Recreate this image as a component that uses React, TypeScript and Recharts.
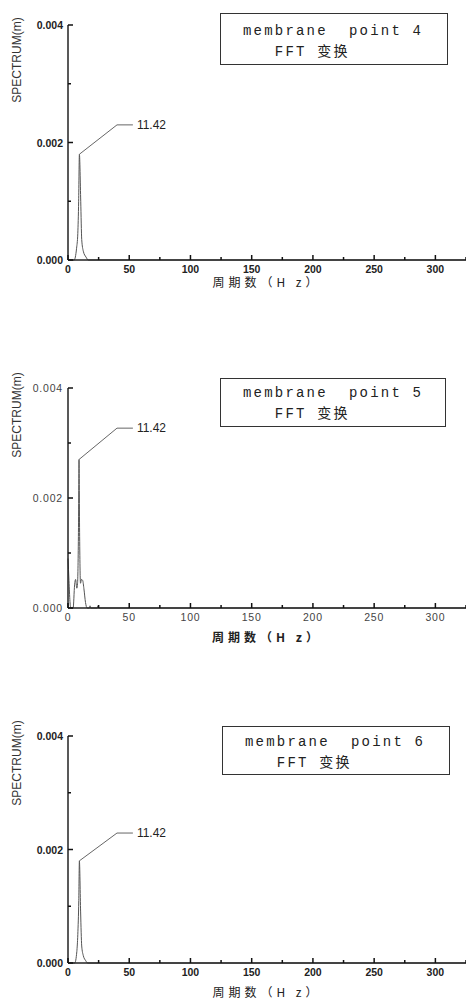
import { LineChart, Line, XAxis, YAxis, ReferenceLine, ReferenceDot, Label } from 'recharts'

// frequencies (Hz) and spectrum amplitude (m)
const freq4 = [0, 5, 7, 8, 8.7, 9.3, 10.4, 11.2, 12.5, 14.7, 16.6, 325]
const spec4 = [0, 0, 0.0002, 0.00045, 0.001, 0.0018, 0.001, 0.00035, 0.00015, 0.00005, 0, 0]

const freq5 = [0, 0.8, 1.6, 2.4, 4.2, 5.4, 6.2, 7.2, 7.8, 8.5, 9, 9.5, 10.2, 11, 12, 13, 14.3, 15.6, 17.5, 18, 18.5, 24, 24.5, 25, 325]
const spec5 = [0.0009, 0.0005, 0.00012, 0, 0, 0.00042, 0.00052, 0.00036, 0.00045, 0.0013, 0.0027, 0.0013, 0.00045, 0.00052, 0.0005, 0.00035, 0.0001, 0, 0, 0.00004, 0, 0, 0.00004, 0, 0]

const freq6 = [0, 5.5, 7.2, 8, 8.8, 9.3, 10.3, 11.2, 12.5, 14.5, 16, 325]
const spec6 = [0, 0, 0.0002, 0.0005, 0.0011, 0.0018, 0.0009, 0.0003, 0.00013, 0.00004, 0, 0]

const xTicks = [0, 25, 50, 75, 100, 125, 150, 175, 200, 225, 250, 275, 300, 325]
const yTicks = [0, 0.001, 0.002, 0.003, 0.004]
const peakLabel = '11.42'
const points = ['membrane  point 4', 'membrane  point 5', 'membrane  point 6']
const subTitle = '   FFT 变换'
const xTitle = '周期数（H z）'
const yTitle = 'SPECTRUM(m)'

const toRows = (f: number[], s: number[]) => f.map((v, i) => ({ f: v, s: s[i] }))

const SANS = '"Liberation Sans", Arial, sans-serif'
const AXIS_X = 68

const YTick = ({ y, payload, light }: any) => {
  const v = payload.value
  const major = Math.round(v * 1000) % 2 === 0
  return (
    <g>
      <path d={`M${AXIS_X},${y}h${major ? 5 : 3}`} stroke="#111" strokeWidth={1.5} fill="none" />
      {major && (
        <text x={AXIS_X - 5} y={y} dy={4} textAnchor="end" fontSize={10.5} fontFamily={SANS}
          fontWeight={light ? 'normal' : 'bold'} letterSpacing={light ? 0.8 : 0} fill={light ? '#444' : '#222'}>
          {v.toFixed(3)}
        </text>
      )}
    </g>
  )
}

const XTick = ({ x, y, payload, light, axisY }: any) => {
  const v = payload.value
  const major = v % 50 === 0
  return (
    <g>
      <path d={`M${x},${axisY}v${major ? -5 : -3}`} stroke="#111" strokeWidth={1.5} fill="none" />
      {major && (
        <text x={x} y={axisY + 4} dy={9} textAnchor="middle" fontSize={10.5} fontFamily={SANS}
          fontWeight={light ? 'normal' : 'bold'} letterSpacing={light ? 0.8 : 0} fill={light ? '#444' : '#222'}>
          {v}
        </text>
      )}
    </g>
  )
}

function Panel({ top, plotTop, plotH, freq, spec, name, box, yMid, titleGap, leaderY, light }: any) {
  const rows = toRows(freq, spec)
  const peakIdx = spec.indexOf(Math.max(...spec))
  const pf = freq[peakIdx]
  const pv = spec[peakIdx]
  const h = plotTop + plotH + 45
  const axisY = plotTop + plotH
  return (
    <div style={{ position: 'absolute', left: 0, top, width: 466, height: h }}>
      <LineChart width={466} height={h} data={rows} margin={{ top: plotTop, right: 0, bottom: 0, left: 0 }}>
        <XAxis type="number" dataKey="f" domain={[0, 325]} ticks={xTicks} interval={0} height={45}
          tickSize={4} tickMargin={2} tickLine={false} axisLine={{ stroke: '#222', strokeWidth: 1.5 }}
          tick={<XTick light={light} axisY={axisY} />}>
          <Label content={({ viewBox }: any) => (
            <text x={viewBox.x + viewBox.width / 2} y={viewBox.y + titleGap + 4} textAnchor="middle"
              fontSize={12} letterSpacing={4} fontFamily='"Noto Sans CJK SC", sans-serif'
              fontWeight={light ? 'bold' : 'normal'} fill="#222">
              {xTitle}
            </text>
          )} />
        </XAxis>
        <YAxis type="number" domain={[0, 0.004]} ticks={yTicks} interval={0} width={AXIS_X}
          tickSize={4} tickMargin={2} tickLine={false} axisLine={{ stroke: '#222', strokeWidth: 1.5 }}
          tick={<YTick light={light} />}>
          <Label content={({ viewBox }: any) => {
            const cy = viewBox.y + yMid
            return (
              <text x={21} y={cy} transform={`rotate(-90 21 ${cy})`} textAnchor="middle"
                fontSize={12} fontFamily={SANS} fill="#333">
                {yTitle}
              </text>
            )
          }} />
        </YAxis>
        <Line type="monotone" dataKey="s" stroke="#555" strokeWidth={1} dot={false} isAnimationActive={false} />
        <ReferenceLine segment={[{ x: pf, y: pv }, { x: 40, y: leaderY }]} stroke="#666" strokeWidth={1} />
        <ReferenceLine segment={[{ x: 40, y: leaderY }, { x: 53, y: leaderY }]} stroke="#666" strokeWidth={1} />
        <ReferenceDot x={53} y={leaderY} r={0} stroke="none"
          label={{ value: peakLabel, position: 'right', offset: 4, fontSize: 12, fontFamily: SANS, fill: '#222' }} />
      </LineChart>
      <div style={{
        position: 'absolute', left: box[0], top: box[1], width: box[2], height: box[3],
        boxSizing: 'border-box', border: '1.5px solid #333', background: '#fff',
        fontFamily: '"Liberation Mono", "Noto Sans CJK SC", monospace', fontSize: 14,
        letterSpacing: 2.2, color: '#222', whiteSpace: 'pre', lineHeight: '21px',
        paddingLeft: 22, paddingTop: box[4],
      }}>
        <div>{name}</div>
        <div>{subTitle}</div>
      </div>
    </div>
  )
}

export default function App() {
  return (
    <div style={{ position: 'absolute', left: 0, top: 0, width: 466, height: 1000, background: '#fff' }}>
      <Panel top={0} plotTop={25} plotH={235} freq={freq4} spec={spec4} name={points[0]}
        box={[220, 13, 228, 52, 7]} yMid={35} titleGap={23} leaderY={0.0023} />
      <Panel top={330} plotTop={58} plotH={220} freq={freq5} spec={spec5} name={points[1]}
        box={[220, 48, 226, 49, 4]} yMid={27} titleGap={30} leaderY={0.00327} light />
      <Panel top={660} plotTop={76} plotH={227} freq={freq6} spec={spec6} name={points[2]}
        box={[222, 66, 228, 49, 5]} yMid={27} titleGap={30} leaderY={0.00229} />
    </div>
  )
}
